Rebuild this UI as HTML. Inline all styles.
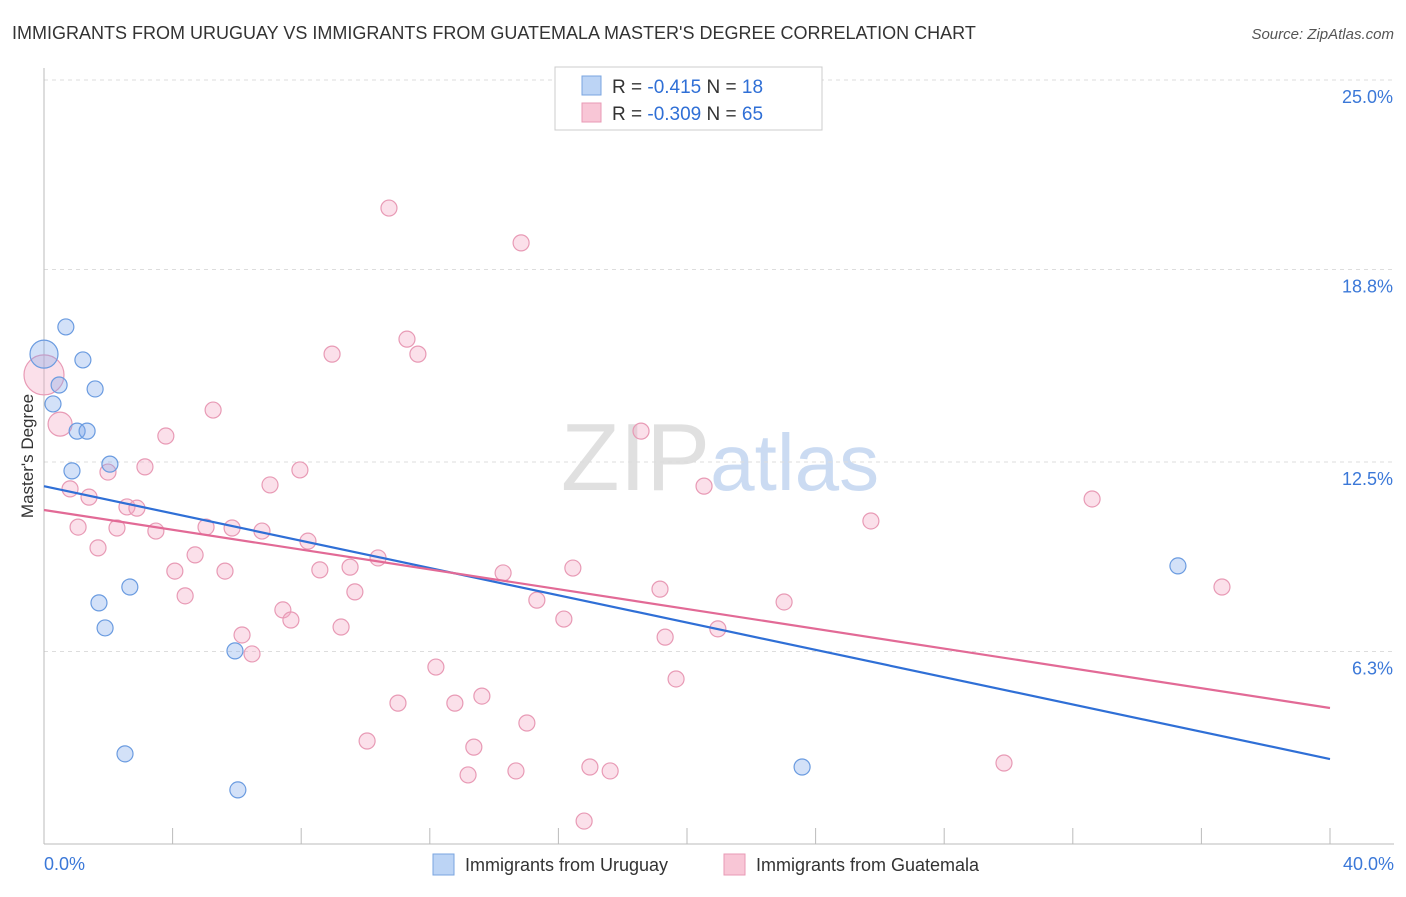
<!DOCTYPE html>
<html><head><meta charset="utf-8"><style>
body{margin:0;background:#fff;font-family:"Liberation Sans",sans-serif;}
svg text{font-family:"Liberation Sans",sans-serif;}
</style></head><body>
<svg id="chart" width="1406" height="892" viewBox="0 0 1406 892" xmlns="http://www.w3.org/2000/svg">
<text x="12" y="39" font-size="18" fill="#333">IMMIGRANTS FROM URUGUAY VS IMMIGRANTS FROM GUATEMALA MASTER'S DEGREE CORRELATION CHART</text>
<text x="1394" y="39" font-size="15" fill="#555" text-anchor="end" font-style="italic">Source: ZipAtlas.com</text>
<text x="720" y="490" font-size="96" text-anchor="middle" fill="#ccc" opacity="0.6" font-family="Liberation Serif">ZIP<tspan fill="#a9c4ea" font-family="Liberation Sans" font-size="80">atlas</tspan></text>
<text transform="translate(33,456) rotate(-90)" font-size="17" fill="#333" text-anchor="middle">Master's Degree</text>
<g id="grid"></g>
<g id="axes"></g>
<g id="marks"></g>
<g>
<rect x="555" y="67" width="267" height="63" fill="#fff" stroke="#ccc"/>
<rect x="582" y="76" width="19" height="19" fill="#bcd4f5" stroke="#7aa5e0"/>
<text x="612" y="93" font-size="19" fill="#333">R = <tspan fill="#2f6fd6">-0.415</tspan>   N =  <tspan fill="#2f6fd6">18</tspan></text>
<rect x="582" y="103" width="19" height="19" fill="#f8c6d6" stroke="#e89ab5"/>
<text x="612" y="120" font-size="19" fill="#333">R = <tspan fill="#2f6fd6">-0.309</tspan>   N = <tspan fill="#2f6fd6">65</tspan></text>
</g>
<g>
<rect x="433" y="854" width="21" height="21" fill="#bcd4f5" stroke="#7aa5e0"/>
<text x="465" y="871" font-size="18" fill="#333">Immigrants from Uruguay</text>
<rect x="724" y="854" width="21" height="21" fill="#f8c6d6" stroke="#e89ab5"/>
<text x="756" y="871" font-size="18" fill="#333">Immigrants from Guatemala</text>
</g>
</svg>
<script>
const yTicks=[25.0,18.8,12.5,6.3];
const yTickLabels=["25.0%","18.8%","12.5%","6.3%"];
const xTickCount=10;
const xTickLabels=["0.0%","40.0%"];
const uruguayX=[0.68,0,1.21,0.47,1.59,0.28,1.03,1.34,0.87,2.05,2.67,1.71,1.90,5.94,2.52,6.03,23.58,35.27];
const uruguayY=[16.92,16.03,15.84,15.02,14.89,14.40,13.51,13.51,12.21,12.43,8.41,7.89,7.07,6.32,2.95,1.77,2.52,9.10];
const uruguayBig=[1];
const guatX=[10.73,14.84,11.29,8.96,11.63,0,5.26,0.50,3.79,18.57,0.81,1.40,3.14,1.99,7.96,7.03,20.53,32.60,2.58,2.89,1.06,2.27,5.04,5.85,6.78,3.48,25.72,1.68,8.21,4.70,10.39,4.07,5.63,8.58,9.52,14.28,16.45,4.39,9.67,15.33,19.16,23.02,36.64,7.43,7.68,9.24,16.17,6.16,6.47,19.32,20.96,12.19,19.66,13.62,11.01,12.78,15.02,10.05,13.37,13.19,14.68,16.98,17.61,29.86,16.80];
const guatY=[20.81,19.67,16.52,16.03,16.03,15.35,14.20,13.74,13.35,13.51,11.62,11.35,12.34,12.17,12.24,11.75,11.71,11.29,11.03,10.99,10.37,10.34,10.37,10.34,10.24,10.24,10.57,9.69,9.91,9.46,9.36,8.93,8.93,8.97,9.06,8.87,9.03,8.12,8.25,7.98,8.34,7.92,8.41,7.66,7.33,7.10,7.36,6.84,6.22,6.77,7.04,5.79,5.40,4.84,4.61,4.61,3.96,3.37,3.17,2.26,2.39,2.52,2.39,2.65,0.75];
const guatBig=[5,7];
const trendUruguay=[11.71,2.78];
const trendGuat=[10.93,4.45];
const NS="http://www.w3.org/2000/svg";
const X0=44,X1=1330,XMAX=40,YB=844,YT=80,YMAX=25;
function sx(v){return X0+(X1-X0)*v/XMAX;}
function sy(v){return YB-(YB-YT)*v/YMAX;}
function mk(tag,attrs,parent){const e=document.createElementNS(NS,tag);for(const k in attrs)e.setAttribute(k,attrs[k]);parent.appendChild(e);return e;}
const grid=document.getElementById('grid'),axes=document.getElementById('axes'),marks=document.getElementById('marks');
yTicks.forEach((t,i)=>{
 const l=mk('line',{x1:X0,x2:1394,y1:sy(t),y2:sy(t),stroke:'#ddd','stroke-dasharray':'4,4'},grid);
 
 
 const tx=mk('text',{x:1393,y:sy(t)+23,'font-size':18,fill:'#3b78d8','text-anchor':'end'},axes);
 tx.textContent=yTickLabels[i];
 
 
});
const ya=mk('line',{x1:X0,x2:X0,y1:68,y2:YB,stroke:'#bbb'},axes);


const xa=mk('line',{x1:X0,x2:1394,y1:YB,y2:YB,stroke:'#bbb'},axes);


for(let i=0;i<=xTickCount;i++){
 const v=XMAX*i/xTickCount;
 const t=mk('line',{x1:sx(v),x2:sx(v),y1:828,y2:YB,stroke:'#bbb'},axes);
 
 
}
const xl0=mk('text',{x:X0,y:870,'font-size':18,fill:'#3b78d8'},axes);xl0.textContent=xTickLabels[0];


const xl1=mk('text',{x:1394,y:870,'font-size':18,fill:'#3b78d8','text-anchor':'end'},axes);xl1.textContent=xTickLabels[1];


function pts(xs,ys,big,bigR,fill,stroke,name){
 xs.forEach((x,i)=>{
  const r=big.includes(i)?bigR[big.indexOf(i)]:8;
  const c=mk('circle',{cx:sx(x),cy:sy(ys[i]),r:r,fill:fill,stroke:stroke,'stroke-width':1.2},marks);
  
  
 });
}
pts(guatX,guatY,guatBig,[20,12],'rgba(244,166,194,0.35)','#e89ab5','guatemala-point');
pts(uruguayX,uruguayY,uruguayBig,[14],'rgba(130,170,235,0.35)','#6a9be0','uruguay-point');
const lu=mk('line',{x1:sx(0),y1:sy(trendUruguay[0]),x2:sx(40),y2:sy(trendUruguay[1]),stroke:'#2f6fd6','stroke-width':2.2},marks);


const lg=mk('line',{x1:sx(0),y1:sy(trendGuat[0]),x2:sx(40),y2:sy(trendGuat[1]),stroke:'#e26a96','stroke-width':2.2},marks);


</script>
</body></html>
